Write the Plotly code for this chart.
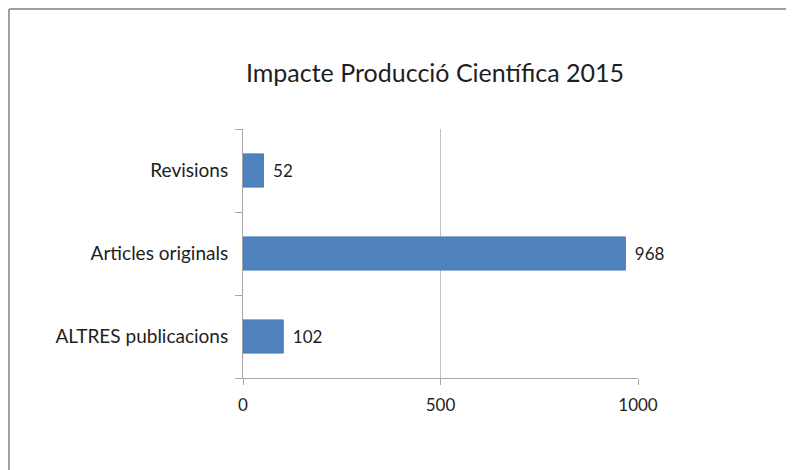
import plotly.graph_objects as go

categories = ["ALTRES publicacions", "Articles originals", "Revisions"]
values = [102, 968, 52]
x_ticks = [0, 500, 1000]
title_text = "Impacte Producció Científica 2015"

# page body adds an 8px offset; figure sized to fill the rest of the 794x470 window
W, H = 786, 462
L, R, T, B = 235, 156, 121, 92
PW, PH = W - L - R, H - T - B

fig = go.Figure(go.Bar(
    y=categories, x=values, orientation="h",
    marker=dict(color="#4F81BD", line=dict(color="#4A7EBB", width=1)),
    width=0.4,
    texttemplate=" \u2009%{x}", textposition="outside",
    textfont=dict(size=17, color="#1e1e1e", family="Lato"),
    cliponaxis=False,
))

frame_color = "#a0a0a0"
fig.update_layout(
    width=W, height=H,
    margin=dict(l=L, r=R, t=T, b=B, pad=0),
    paper_bgcolor="white", plot_bgcolor="white",
    font=dict(family="Lato", color="#1e1e1e", size=17),
    title=dict(text=title_text, x=427 / W, xanchor="center", y=1 - 65 / H, yanchor="middle",
               font=dict(size=25, color="#1e1e1e", family="Lato")),
    showlegend=False,
    shapes=[
        dict(type="line", xref="paper", yref="paper",
             x0=-(L - 1) / PW, x1=-(L - 1) / PW, y0=-(H - T) / PH - 1, y1=1 + (T - 1) / PH,
             line=dict(color=frame_color, width=2), layer="below"),
        dict(type="line", xref="paper", yref="paper",
             x0=-(L - 1) / PW, x1=(W - L + 10) / PW, y0=1 + (T - 1) / PH, y1=1 + (T - 1) / PH,
             line=dict(color=frame_color, width=2), layer="below"),
    ],
)

fig.update_xaxes(
    range=[0, 1000], tickvals=x_ticks, ticktext=[str(v) for v in x_ticks],
    showgrid=True, gridcolor="#c0c0c0", gridwidth=1,
    showline=True, linecolor="#a6a6a6", linewidth=1,
    ticks="outside", ticklen=6, tickcolor="#a6a6a6",
    ticklabelstandoff=6,
    zeroline=False, tickfont=dict(size=17, color="#1e1e1e"),
)
fig.update_yaxes(
    showgrid=False, showline=True, linecolor="#a6a6a6", linewidth=1,
    ticks="outside", ticklen=7, tickcolor="#a6a6a6", tickson="boundaries",
    ticklabelstandoff=10,
    tickfont=dict(size=19, color="#1e1e1e"),
)

fig.write_html("out.html")
